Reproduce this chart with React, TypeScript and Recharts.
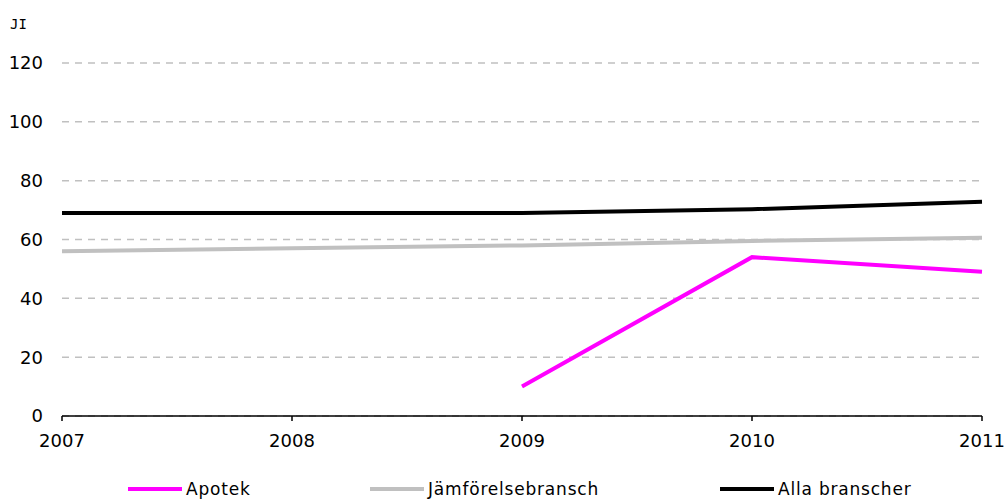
import { CartesianGrid, Legend, Line, LineChart, XAxis, YAxis } from "recharts";

const years = ["2007", "2008", "2009", "2010", "2011"];
const apotek = [null, null, 10, 54, 49];
const jamforelse = [56, 57, 58, 59.5, 60.6];
const allaBranscher = [69, 69, 69, 70.3, 72.8];
const yTicks = [0, 20, 40, 60, 80, 100, 120];

const series = [
  { key: "apotek", name: "Apotek", color: "#ff00ff", left: 128 },
  { key: "jamforelse", name: "Jämförelsebransch", color: "#c0c0c0", left: 370 },
  { key: "alla", name: "Alla branscher", color: "#000000", left: 720 },
];

const data = years.map((year, i) => ({
  year,
  apotek: apotek[i],
  jamforelse: jamforelse[i],
  alla: allaBranscher[i],
}));

const font = "'DejaVu Sans', Verdana, sans-serif";

const LegendRow = () => (
  <div style={{ position: "relative", width: 1008, height: 55 }}>
    {series.map((s) => (
      <div
        key={s.key}
        style={{
          position: "absolute",
          left: s.left,
          top: 33,
          display: "flex",
          alignItems: "center",
          fontFamily: font,
          fontSize: 17,
          letterSpacing: 0.8,
          color: "#000",
          lineHeight: "20px",
        }}
      >
        <span style={{ display: "inline-block", width: 54, height: 4, background: s.color, marginRight: 4 }} />
        <span>{s.name}</span>
      </div>
    ))}
  </div>
);

export default function App() {
  return (
    <div style={{ position: "absolute", left: 0, top: 0, width: 1008, height: 501, background: "#fff" }}>
      {/* unit label above the value axis */}
      <div
        style={{
          position: "absolute",
          left: 10,
          top: 17,
          fontFamily: "'DejaVu Sans Mono', monospace",
          fontSize: 14,
          lineHeight: "14px",
          color: "#000",
        }}
      >
        JI
      </div>
      <LineChart width={1008} height={501} data={data} margin={{ top: 63, right: 26, bottom: 0, left: 0 }}>
        <CartesianGrid vertical={false} stroke="#c0c0c0" strokeWidth={1.5} strokeDasharray="7 6" />
        <XAxis
          dataKey="year"
          interval={0}
          height={30}
          tickSize={5}
          tickMargin={13}
          axisLine={{ stroke: "#000", strokeWidth: 1.5 }}
          tickLine={{ stroke: "#000", strokeWidth: 1.5 }}
          tick={{ fill: "#000", fontSize: 18, fontFamily: font }}
        />
        <YAxis
          domain={[0, 120]}
          ticks={yTicks}
          width={62}
          axisLine={false}
          tickLine={false}
          tickSize={0}
          tickMargin={19}
          tick={{ fill: "#000", fontSize: 18, fontFamily: font }}
        />
        <Legend verticalAlign="bottom" height={55} content={() => <LegendRow />} />
        {series.map((s) => (
          <Line
            key={s.key}
            dataKey={s.key}
            name={s.name}
            stroke={s.color}
            strokeWidth={4}
            dot={false}
            activeDot={false}
            isAnimationActive={false}
          />
        ))}
      </LineChart>
    </div>
  );
}
